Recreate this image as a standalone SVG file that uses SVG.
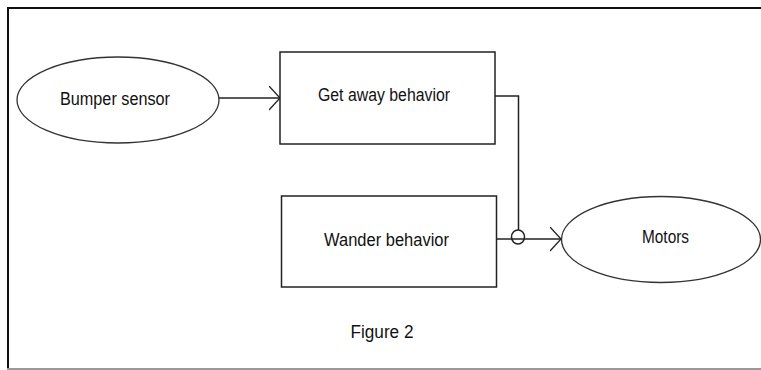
<svg xmlns="http://www.w3.org/2000/svg" width="761" height="370" viewBox="0 0 761 370">
<style>
.shape{fill:#fff;stroke:#222;stroke-width:1.5}
.oval{fill:#fff;stroke:#333;stroke-width:1.3}
.conn{fill:none;stroke:#222;stroke-width:1.5}
.lbl{font-family:"Liberation Sans",Arial,sans-serif;font-size:17.5px;fill:#111;text-anchor:middle}
</style>
<defs>
<marker id="open" markerUnits="userSpaceOnUse" markerWidth="14" markerHeight="26" refX="11" refY="12" orient="auto">
<path d="M0,0 L11,12 L0,24" fill="none" stroke="#222" stroke-width="1.3"/>
</marker>
</defs>
<rect width="761" height="370" fill="#fff"/>
<g id="frame">
<path d="M8,370 V8 H761" fill="none" stroke="#111" stroke-width="2"/>
<line x1="7" y1="369" x2="761" y2="369" stroke="#999" stroke-width="2"/>
</g>
<g id="connectors">
<line class="conn" x1="219" y1="98" x2="280" y2="98" marker-end="url(#open)"/>
<path class="conn" d="M495,96 H518.5 V230"/>
<ellipse class="conn" cx="518" cy="237" rx="6.5" ry="7"/>
<line class="conn" x1="497" y1="239" x2="561" y2="239" marker-end="url(#open)"/>
</g>
<g id="bumper">
<ellipse class="oval" cx="118" cy="100" rx="101" ry="43"/>
<text class="lbl" x="115" y="105" textLength="110" lengthAdjust="spacingAndGlyphs">Bumper sensor</text>
</g>
<g id="getaway">
<rect class="shape" x="280" y="52" width="215" height="92"/>
<text class="lbl" x="384" y="101" textLength="132" lengthAdjust="spacingAndGlyphs">Get away behavior</text>
</g>
<g id="wander">
<rect class="shape" x="281.5" y="196" width="215" height="91"/>
<text class="lbl" x="386.5" y="246" textLength="125" lengthAdjust="spacingAndGlyphs">Wander behavior</text>
</g>
<g id="motors">
<ellipse class="oval" cx="661" cy="239.5" rx="99.5" ry="43"/>
<text class="lbl" x="665.5" y="243" textLength="47" lengthAdjust="spacingAndGlyphs">Motors</text>
</g>
<text class="lbl" x="382" y="338" textLength="63" lengthAdjust="spacingAndGlyphs">Figure 2</text>
</svg>
